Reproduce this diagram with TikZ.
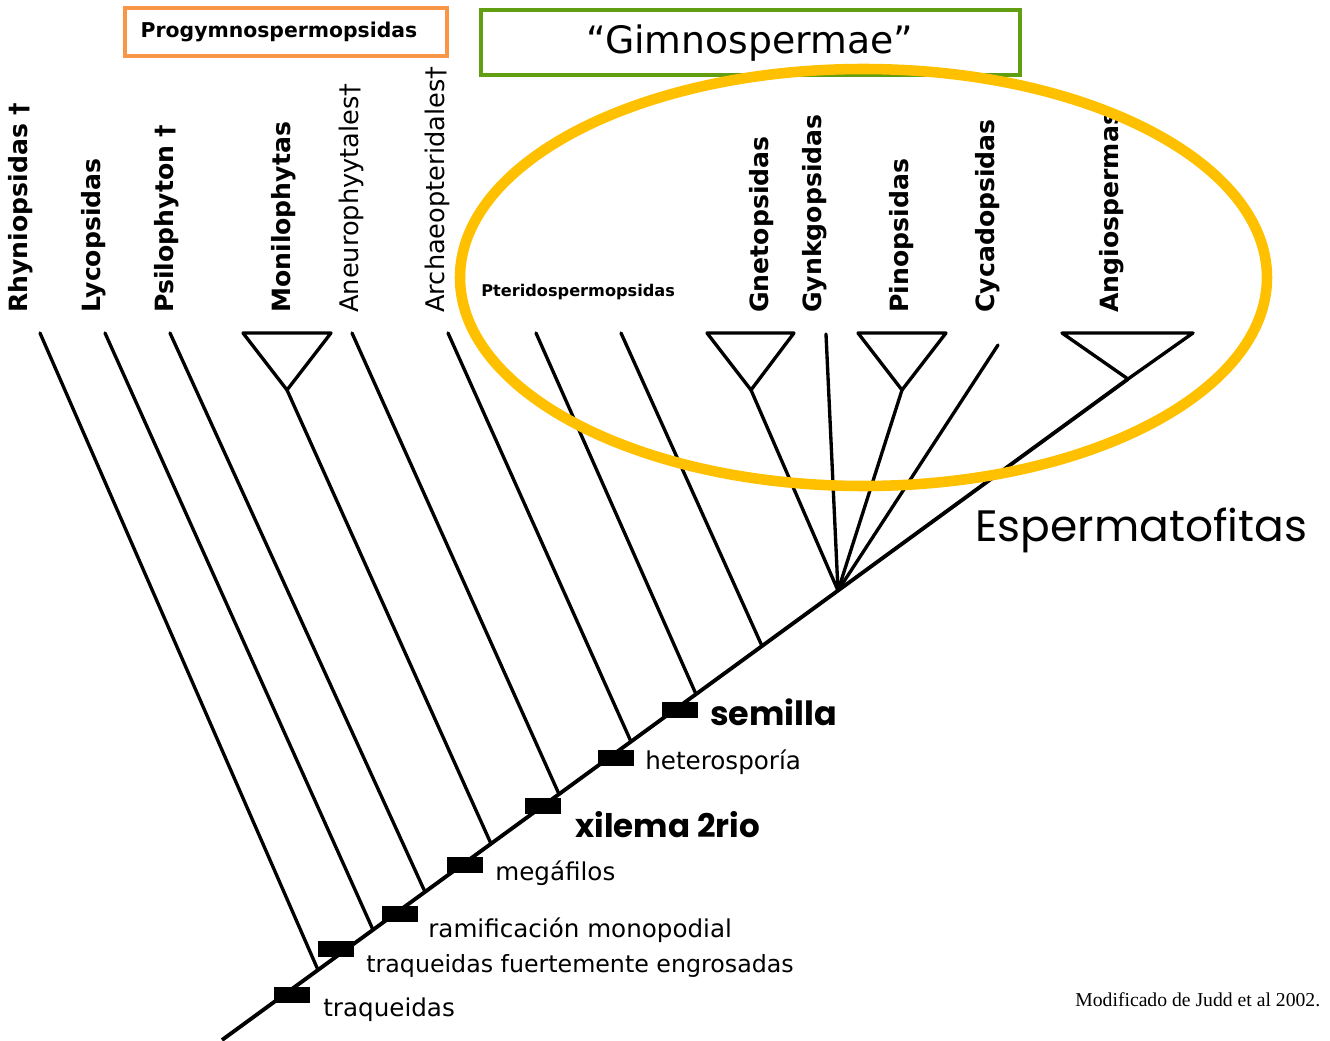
\documentclass[tikz,border=0pt]{standalone}
\usepackage{fontspec}
\setmainfont{DejaVu Sans}
\newfontfamily\comicfont{Poppins}
\newfontfamily\notefont{Liberation Serif}
\definecolor{gimnoverde}{RGB}{98,158,18}
\definecolor{prognaranja}{RGB}{247,150,70}
\definecolor{elipseamarilla}{RGB}{255,192,0}
\tikzset{
  rama/.style={line width=1.9pt, line join=round, line cap=round},
  taxon/.style={rotate=90, anchor=west, inner sep=0pt, font=\bfseries\fontsize{14.3}{16}\selectfont},
  taxonfosil/.style={taxon, font=\fontsize{14.6}{16}\selectfont},
  marca/.style={fill=black, minimum width=0.72cm, minimum height=0.32cm, inner sep=0pt},
  caracter/.style={anchor=west, inner sep=0pt, font=\fontsize{14}{16}\selectfont}
}
\begin{document}
\begin{tikzpicture}[x=0.02cm, y=-0.02cm]
    \useasboundingbox (0,0) rectangle (1330,1041);
    % puntas de las ramas
    \coordinate (tRhy) at (40,333);
    \coordinate (tLyc) at (105,333);
    \coordinate (tPsi) at (170,333);
    \coordinate (tAneu) at (352,333);
    \coordinate (tArch) at (448,333);
    \coordinate (tPt1) at (536,333);
    \coordinate (tPt2) at (621,333);
    \coordinate (tGyn) at (826,334);
    \coordinate (tCyc) at (998,345);
    \coordinate (aMon) at (287,390);
    \coordinate (aGne) at (751,390);
    \coordinate (aPin) at (902,390);
    \coordinate (aAng) at (1128,379);
    % nodos sobre el tronco
    \coordinate (raiz) at (222,1040);
    \coordinate (jRhy) at (318,970);
    \coordinate (jLyc) at (373,929.8);
    \coordinate (jPsi) at (425,891.9);
    \coordinate (jMon) at (491,843.7);
    \coordinate (jAneu) at (559,794.1);
    \coordinate (jArch) at (631,741.6);
    \coordinate (jPt1) at (696,694.2);
    \coordinate (jPt2) at (762,646);
    \coordinate (nodoEsp) at (838,590.6);
    % tronco y ramas
    \draw[rama, line width=2.2pt, line cap=butt] (raiz) -- (aAng);
    \draw[rama] (tRhy) -- (jRhy);
    \draw[rama] (tLyc) -- (jLyc);
    \draw[rama] (tPsi) -- (jPsi);
    \draw[rama] (aMon) -- (jMon);
    \draw[rama] (tAneu) -- (jAneu);
    \draw[rama] (tArch) -- (jArch);
    \draw[rama] (tPt1) -- (jPt1);
    \draw[rama] (tPt2) -- (jPt2);
    \draw[rama] (aGne) -- (nodoEsp);
    \draw[rama] (tGyn) -- (nodoEsp);
    \draw[rama] (aPin) -- (nodoEsp);
    \draw[rama] (tCyc) -- (nodoEsp);
    % triangulos
    \draw[rama] (243,333) -- (331,333) -- (aMon) -- cycle;
    \draw[rama] (707,333) -- (794,333) -- (aGne) -- cycle;
    \draw[rama] (858,333) -- (946,333) -- (aPin) -- cycle;
    \draw[rama] (1062,333) -- (1193,333) -- (aAng) -- cycle;
    % marcas de caracteres
    \node[marca] (m1) at (292,995) {};
    \node[marca] (m2) at (336,949) {};
    \node[marca] (m3) at (400,914) {};
    \node[marca] (m4) at (465,865) {};
    \node[marca] (m5) at (543,806) {};
    \node[marca] (m6) at (616,758) {};
    \node[marca] (m7) at (680,710) {};
    \node[caracter] (c1) at (323,1010) {traqueidas};
    \node[caracter, font=\fontsize{13.5}{16}\selectfont] (c2) at (366,966) {traqueidas fuertemente engrosadas};
    \node[caracter] (c3) at (428,930) {ramificación monopodial};
    \node[caracter] (c4) at (495,873) {megáfilos};
    \node[caracter, font=\comicfont\bfseries\fontsize{18.5}{22}\selectfont] (c5) at (575,825) {xilema 2rio};
    \node[caracter] (c6) at (645,762) {heterosporía};
    \node[caracter, font=\comicfont\bfseries\fontsize{19}{22}\selectfont] (c7) at (710,712) {semilla};
    \node[caracter, font=\comicfont\fontsize{25}{30}\selectfont] (esp) at (975,530) {Espermatofitas};
    \node[caracter, font=\notefont\fontsize{11.2}{13}\selectfont] (nota) at (1075,1000) {Modificado de Judd et al 2002.};
    % nombres de los grupos
    \node[taxon] (nRhy) at (21,313) {Rhyniopsidas †};
    \node[taxon] (nLyc) at (94,313) {Lycopsidas};
    \node[taxon] (nPsi) at (167,313) {Psilophyton †};
    \node[taxon] (nMon) at (284,313) {Monilophytas};
    \node[taxonfosil] (nAneu) at (351,313) {Aneurophyytales†};
    \node[taxonfosil] (nArch) at (437,313) {Archaeopteridales†};
    \node[anchor=west, inner sep=0pt, font=\bfseries\fontsize{9.2}{11}\selectfont] (nPter) at (481,292) {Pteridospermopsidas};
    \node[taxon] (nGne) at (762,313) {Gnetopsidas};
    \node[taxon] (nGyn) at (815,313) {Gynkgopsidas};
    \node[taxon] (nPin) at (902,313) {Pinopsidas};
    \node[taxon] (nCyc) at (988,313) {Cycadopsidas};
    \node[taxon] (nAng) at (1112,313) {Angiospermas};
    % recuadros
    \draw[prognaranja, line width=2.6pt] (125,8) rectangle (447,56);
    \node[font=\bfseries\fontsize{11.6}{13}\selectfont] (prog) at (279,32) {Progymnospermopsidas};
    \draw[gimnoverde, line width=2.6pt] (481,10) rectangle (1020,75);
    \node[font=\fontsize{21.5}{24}\selectfont] (gimno) at (750,43) {“Gimnospermae”};
    % elipse de las espermatofitas
    \draw[elipseamarilla, line width=6pt] (863.5,277.5) ellipse [x radius=403.5, y radius=208.5];
\end{tikzpicture}
\end{document}
